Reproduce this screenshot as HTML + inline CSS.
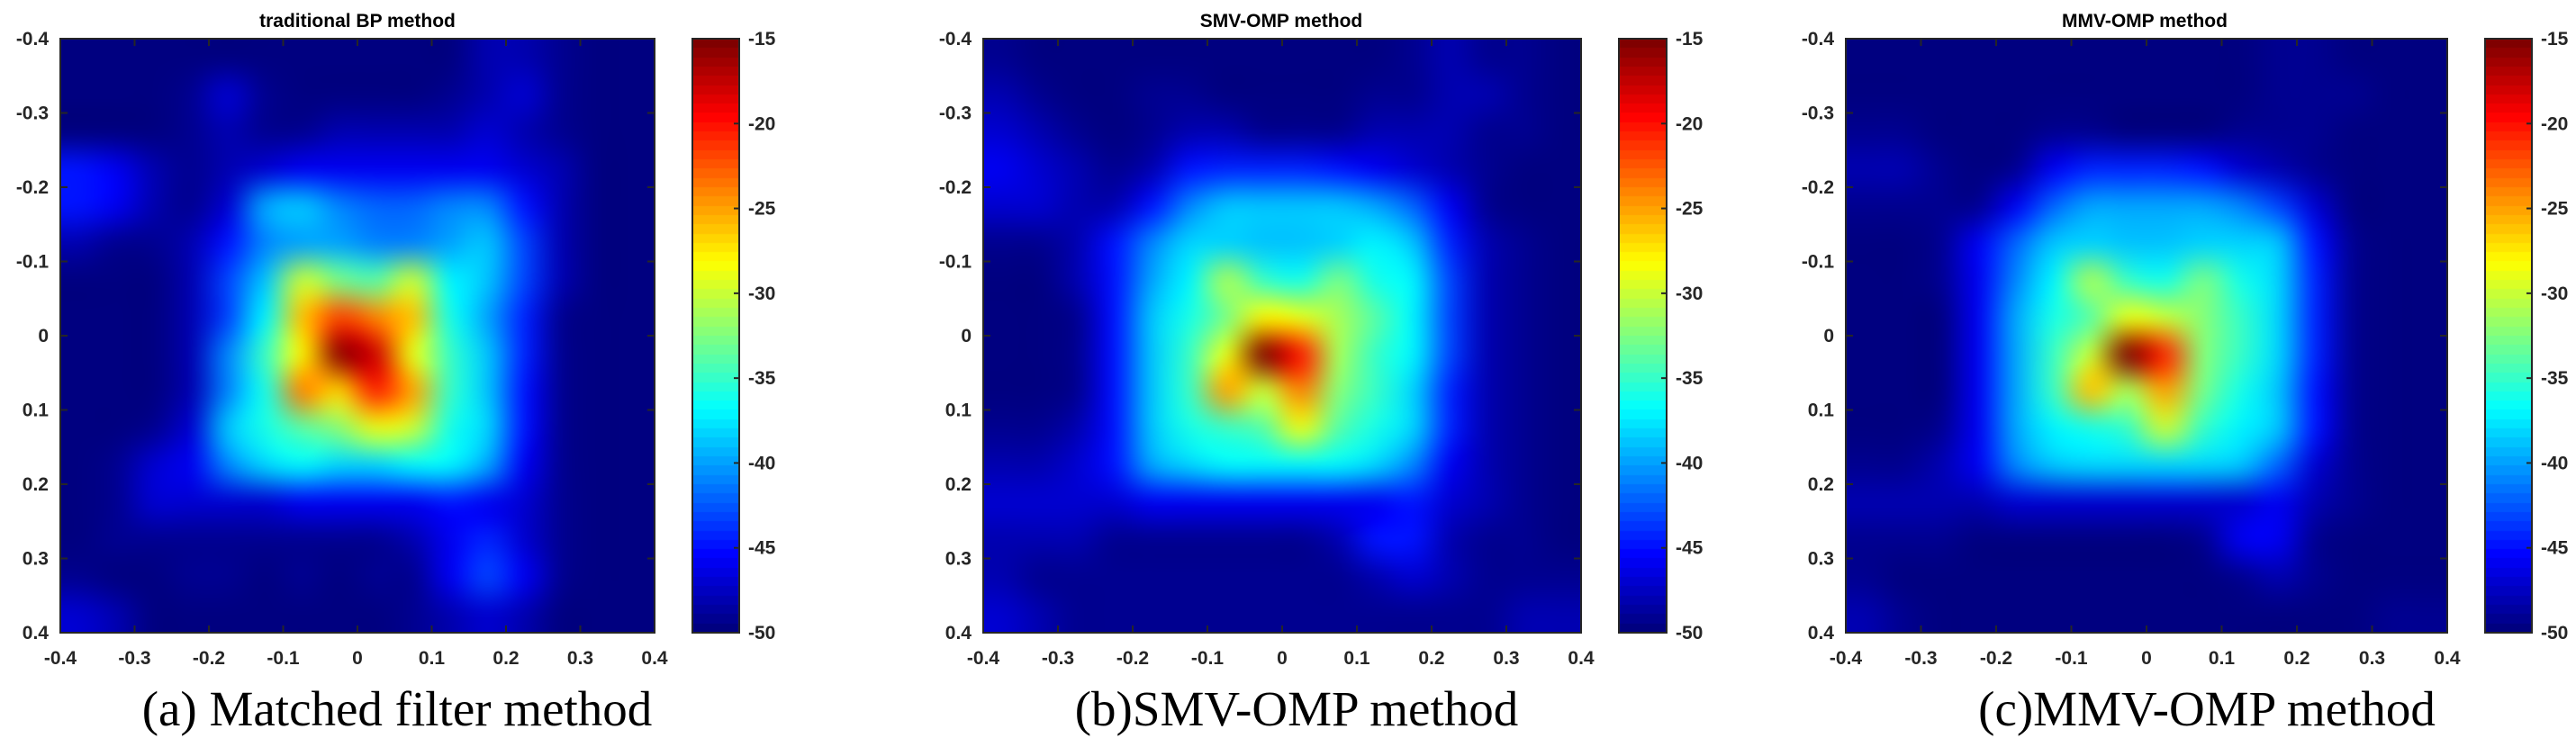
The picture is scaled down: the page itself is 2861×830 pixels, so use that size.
<!DOCTYPE html>
<html><head><meta charset="utf-8"><style>
body{margin:0;background:#fff;width:2861px;height:830px;overflow:hidden;position:relative;font-family:"Liberation Sans",Arial,sans-serif}
canvas{position:absolute;image-rendering:auto}
svg{position:absolute;left:0;top:0}
</style></head><body>
<svg id="ov" width="2861" height="830"></svg>
<script>
const xTicks=[-0.4,-0.3,-0.2,-0.1,0,0.1,0.2,0.3,0.4];
const xTickLabels=["-0.4","-0.3","-0.2","-0.1","0","0.1","0.2","0.3","0.4"];
const cbTicks=[-15,-20,-25,-30,-35,-40,-45,-50];
const cRange=[-50,-15];
const titles=["traditional BP method","SMV-OMP method","MMV-OMP method"];
const captions=["(a) Matched filter method","(b)SMV-OMP method","(c)MMV-OMP method"];
const gridA=[
[-50,-50,-50,-50,-50,-50,-50,-50,-50,-50,-50,-48,-48,-49,-50,-50],
[-50,-50,-50,-49,-47,-49,-50,-50,-50,-50,-49,-48,-47,-49,-50,-50],
[-50,-50,-50,-49,-48,-49,-49,-48,-48,-48,-48,-47,-48,-49,-50,-50],
[-45,-46,-48,-49,-48,-47,-46,-46,-46,-46,-46,-46,-47,-48,-50,-50],
[-45,-46,-48,-49,-47,-40,-39,-41,-42,-42,-41,-41,-45,-48,-50,-50],
[-48,-49,-49,-48,-45,-41,-40,-40,-41,-41,-40,-39,-43,-48,-50,-50],
[-50,-50,-50,-48,-43,-39,-30,-33,-34,-30,-37,-39,-43,-48,-50,-50],
[-50,-50,-50,-48,-43,-37,-26,-22,-24,-26,-36,-40,-44,-49,-50,-50],
[-50,-50,-50,-48,-41,-35,-28,-16,-18,-29,-35,-39,-44,-49,-50,-50],
[-50,-50,-50,-48,-41,-36,-24,-27,-21,-25,-35,-39,-45,-49,-50,-50],
[-50,-50,-49,-47,-39,-36,-34,-32,-29,-30,-36,-38,-45,-49,-50,-50],
[-50,-49,-47,-46,-41,-38,-37,-38,-38,-37,-37,-40,-46,-49,-50,-50],
[-50,-49,-47,-47,-47,-47,-46,-46,-46,-46,-45,-46,-47,-49,-50,-50],
[-50,-49,-49,-49,-49,-49,-49,-49,-49,-48,-46,-44,-47,-49,-50,-50],
[-49,-50,-50,-49,-49,-50,-49,-50,-49,-49,-46,-43,-46,-49,-50,-50],
[-47,-48,-50,-50,-50,-50,-50,-50,-50,-49,-48,-47,-48,-50,-50,-50]];
const gridB=[
[-49,-50,-50,-50,-50,-50,-50,-50,-50,-50,-50,-49,-48,-49,-49,-50],
[-48,-49,-50,-50,-49,-49,-50,-50,-50,-50,-49,-49,-48,-48,-49,-50],
[-47,-48,-49,-50,-49,-48,-48,-49,-49,-49,-48,-48,-48,-49,-49,-50],
[-46,-47,-48,-49,-48,-45,-44,-44,-44,-45,-46,-47,-48,-49,-50,-50],
[-47,-47,-48,-48,-45,-41,-39,-39,-39,-39,-40,-42,-46,-49,-50,-50],
[-49,-49,-48,-45,-41,-38,-38,-39,-39,-38,-37,-39,-44,-48,-49,-50],
[-50,-50,-48,-45,-40,-37,-31,-35,-36,-33,-36,-37,-43,-48,-49,-50],
[-50,-50,-49,-45,-39,-36,-33,-28,-29,-31,-34,-37,-43,-48,-49,-50],
[-50,-50,-49,-45,-39,-35,-29,-15,-20,-31,-35,-37,-43,-48,-49,-50],
[-50,-50,-49,-45,-39,-35,-25,-30,-24,-32,-35,-38,-44,-48,-49,-50],
[-49,-49,-48,-45,-39,-36,-35,-34,-29,-34,-36,-38,-44,-48,-49,-50],
[-48,-48,-47,-45,-40,-38,-37,-37,-37,-37,-38,-41,-46,-48,-49,-50],
[-47,-47,-47,-47,-46,-46,-46,-46,-46,-46,-46,-45,-47,-48,-49,-50],
[-48,-48,-48,-49,-49,-49,-49,-49,-49,-48,-45,-45,-48,-49,-49,-50],
[-48,-49,-49,-49,-49,-49,-49,-49,-49,-49,-48,-47,-48,-49,-49,-49],
[-47,-48,-49,-49,-49,-49,-49,-49,-49,-49,-49,-49,-49,-49,-48,-48]];
const gridC=[
[-50,-50,-50,-50,-50,-50,-50,-50,-50,-50,-50,-49,-49,-50,-50,-50],
[-50,-50,-50,-50,-50,-50,-50,-50,-50,-50,-50,-49,-49,-49,-50,-50],
[-49,-49,-50,-50,-50,-49,-49,-50,-50,-50,-49,-49,-49,-50,-50,-50],
[-48,-48,-49,-50,-49,-46,-44,-44,-44,-45,-47,-48,-49,-50,-50,-50],
[-49,-49,-49,-49,-46,-42,-40,-40,-40,-40,-41,-43,-47,-50,-50,-50],
[-50,-50,-49,-46,-42,-39,-38,-39,-39,-38,-38,-39,-45,-49,-50,-50],
[-50,-50,-49,-46,-41,-37,-31,-35,-36,-33,-36,-38,-44,-49,-50,-50],
[-50,-50,-50,-46,-40,-36,-34,-29,-30,-32,-35,-38,-44,-49,-50,-50],
[-50,-50,-50,-46,-40,-35,-30,-15,-21,-32,-35,-38,-44,-49,-50,-50],
[-50,-50,-50,-46,-40,-35,-26,-31,-25,-33,-36,-39,-45,-49,-50,-50],
[-50,-50,-49,-46,-40,-37,-36,-35,-30,-35,-37,-39,-45,-49,-50,-50],
[-49,-49,-48,-46,-41,-39,-38,-38,-38,-38,-39,-42,-47,-49,-50,-50],
[-48,-48,-48,-48,-47,-47,-47,-47,-47,-47,-47,-46,-48,-49,-50,-50],
[-49,-49,-49,-50,-50,-50,-50,-50,-50,-49,-46,-46,-49,-50,-50,-50],
[-49,-50,-50,-50,-50,-50,-50,-50,-50,-50,-49,-48,-49,-50,-50,-50],
[-48,-49,-50,-50,-50,-50,-50,-50,-50,-50,-50,-50,-50,-50,-49,-49]];
const grids=[gridA,gridB,gridC];
const layout=[
 {L:67,R:727,T:43,B:703,cL:769,cR:821,tx:397,cx:441},
 {L:1092,R:1756,T:43,B:703,cL:1798,cR:1851,tx:1423,cx:1440},
 {L:2050,R:2718,T:43,B:703,cL:2760,cR:2812,tx:2382,cx:2451}];
function jet(v){
 let t=(v-cRange[0])/(cRange[1]-cRange[0]);t=Math.max(0,Math.min(1,t));
 t=Math.floor(t*63.999)/63;
 const c=x=>Math.round(255*Math.max(0,Math.min(1,1.5-Math.abs(4*t-x))));
 return [c(3),c(2),c(1)];
}
const NS="http://www.w3.org/2000/svg";
const ov=document.getElementById('ov');
function mk(tag,attrs,parent){const e=document.createElementNS(NS,tag);for(const k in attrs)e.setAttribute(k,attrs[k]);(parent||ov).appendChild(e);return e;}
const txt="#262626";
grids.forEach((g,p)=>{
 const Lo=layout[p];const W=Lo.R-Lo.L,H=Lo.B-Lo.T;
 const n=g.length,m=g[0].length;
 const sm=document.createElement('canvas');sm.width=m;sm.height=n;
 const sx=sm.getContext('2d');const id=sx.createImageData(m,n);
 for(let i=0;i<n;i++)for(let j=0;j<m;j++){const c=jet(g[i][j]);const k=(i*m+j)*4;id.data[k]=c[0];id.data[k+1]=c[1];id.data[k+2]=c[2];id.data[k+3]=255;}
 sx.putImageData(id,0,0);
 const cv=document.createElement('canvas');cv.width=W;cv.height=H;
 cv.style.left=Lo.L+'px';cv.style.top=Lo.T+'px';
 
 
 const cx=cv.getContext('2d');cx.imageSmoothingEnabled=true;cx.imageSmoothingQuality='high';
 cx.drawImage(sm,0,0,m,n,0,0,W,H);
 document.body.insertBefore(cv,ov);
 const cb=document.createElement('canvas');cb.width=Lo.cR-Lo.cL;cb.height=H;
 cb.style.left=Lo.cL+'px';cb.style.top=Lo.T+'px';
 
 
 const bx=cb.getContext('2d');
 for(let y=0;y<H;y++){const v=cRange[1]-(y+0.5)/H*(cRange[1]-cRange[0]);const c=jet(v);bx.fillStyle=`rgb(${c[0]},${c[1]},${c[2]})`;bx.fillRect(0,y,cb.width,1);}
 document.body.insertBefore(cb,ov);
 const X=v=>Lo.L+(v-xTicks[0])/(xTicks[8]-xTicks[0])*W;
 const Y=v=>Lo.T+(v-xTicks[0])/(xTicks[8]-xTicks[0])*H;
 const CY=v=>Lo.T+(cRange[1]-v)/(cRange[1]-cRange[0])*H;
 const grp=mk('g',{});
 
 
 const fr=mk('rect',{x:Lo.L,y:Lo.T,width:W,height:H,fill:'none',stroke:txt,'stroke-width':2},grp);
 
 
 const cf=mk('rect',{x:Lo.cL,y:Lo.T,width:Lo.cR-Lo.cL,height:H,fill:'none',stroke:txt,'stroke-width':2},grp);
 
 
 xTicks.forEach((v,i)=>{
  const x=X(v),y=Y(v);
  mk('line',{x1:x,x2:x,y1:Lo.B,y2:Lo.B-8,stroke:txt,'stroke-width':2},grp);
  mk('line',{x1:x,x2:x,y1:Lo.T,y2:Lo.T+8,stroke:txt,'stroke-width':2},grp);
  mk('line',{x1:Lo.L,x2:Lo.L+8,y1:y,y2:y,stroke:txt,'stroke-width':2},grp);
  mk('line',{x1:Lo.R,x2:Lo.R-8,y1:y,y2:y,stroke:txt,'stroke-width':2},grp);
  const xl=mk('text',{x:x,y:738,'text-anchor':'middle','font-size':21,'font-weight':'bold',fill:txt},grp);xl.textContent=xTickLabels[i];
  
  
  const yl=mk('text',{x:Lo.L-13,y:y+7,'text-anchor':'end','font-size':21,'font-weight':'bold',fill:txt},grp);yl.textContent=xTickLabels[i];
  
  
 });
 cbTicks.forEach(v=>{
  const y=CY(v);
  mk('line',{x1:Lo.cR,x2:Lo.cR-6,y1:y,y2:y,stroke:txt,'stroke-width':2},grp);
  const cl=mk('text',{x:Lo.cR+10,y:y+7,'font-size':21,'font-weight':'bold',fill:txt},grp);cl.textContent=String(v);
  
  
 });
 const t=mk('text',{x:Lo.tx,y:30,'text-anchor':'middle','font-size':21,'font-weight':'bold',fill:'#000'},grp);t.textContent=titles[p];
 
 
 const c=mk('text',{x:Lo.cx,y:806,'text-anchor':'middle','font-size':55,fill:'#000','font-family':'Liberation Serif, serif'},grp);c.textContent=captions[p];
 
 
});
</script>
</body></html>
